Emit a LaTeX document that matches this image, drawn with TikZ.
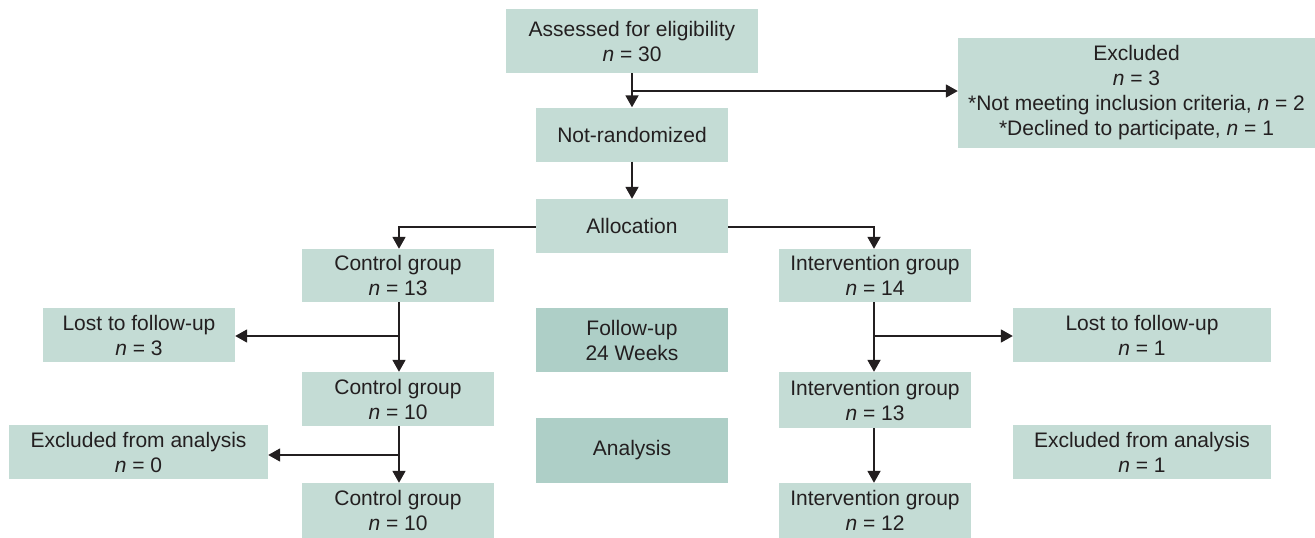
\documentclass[tikz,border=0pt]{standalone}
\usepackage{fontspec}
\setmainfont{Liberation Sans}
\usetikzlibrary{arrows.meta}
\definecolor{boxlight}{RGB}{196,220,213}
\definecolor{boxdark}{RGB}{174,207,199}
\definecolor{ink}{RGB}{35,31,32}
\begin{document}
\begin{tikzpicture}[x=1pt,y=-1pt,
  box/.style={fill=boxlight, draw=none, inner sep=0pt, align=center, text=ink,
    font=\fontsize{21}{25}\selectfont},
  darkbox/.style={box, fill=boxdark},
  arr/.style={draw=ink, line width=1.8pt, -{Triangle[length=12pt,width=13pt]}},
  ln/.style={draw=ink, line width=1.8pt}]
\useasboundingbox (0,0) rectangle (1315,538);
% top
\node[box, minimum width=252pt, minimum height=64pt] (assess) at (632,41) {Assessed for eligibility\\\textit{n} = 30};
\node[box, minimum width=192pt, minimum height=54pt] (notrand) at (632,134.5) {Not-randomized};
\node[box, minimum width=192pt, minimum height=54pt] (alloc) at (632,226) {Allocation};
\node[box, minimum width=357pt, minimum height=110pt] (excl) at (1136.5,93) {Excluded\\\textit{n} = 3\\*Not meeting inclusion criteria, \textit{n} = 2\\*Declined to participate, \textit{n} = 1};
% control column
\node[box, minimum width=192pt, minimum height=53pt] (c1) at (398,275.5) {Control group\\\textit{n} = 13};
\node[box, minimum width=192pt, minimum height=54pt] (c2) at (398,399) {Control group\\\textit{n} = 10};
\node[box, minimum width=192pt, minimum height=55pt] (c3) at (398,510.5) {Control group\\\textit{n} = 10};
\node[box, minimum width=192pt, minimum height=54pt] (lostc) at (139,335) {Lost to follow-up\\\textit{n} = 3};
\node[box, minimum width=259pt, minimum height=54pt] (exclc) at (138.5,452) {Excluded from analysis\\\textit{n} = 0};
% middle labels
\node[darkbox, minimum width=192pt, minimum height=64pt] (follow) at (632,340) {Follow-up\\24 Weeks};
\node[darkbox, minimum width=192pt, minimum height=65pt] (anal) at (632,450.5) {Analysis};
% intervention column
\node[box, minimum width=192pt, minimum height=53pt] (i1) at (875,275.5) {Intervention group\\\textit{n} = 14};
\node[box, minimum width=192pt, minimum height=56pt] (i2) at (875,400) {Intervention group\\\textit{n} = 13};
\node[box, minimum width=192pt, minimum height=55pt] (i3) at (875,510.5) {Intervention group\\\textit{n} = 12};
\node[box, minimum width=258pt, minimum height=54pt] (losti) at (1142,335) {Lost to follow-up\\\textit{n} = 1};
\node[box, minimum width=258pt, minimum height=54pt] (excli) at (1142,452) {Excluded from analysis\\\textit{n} = 1};
% connectors
\coordinate (b0) at (632,91);
\draw[arr] (assess) -- (notrand);
\draw[arr] (b0) -- (b0 -| excl.west);
\draw[arr] (notrand) -- (alloc);
\coordinate (aL) at (399,227);
\coordinate (aR) at (874,227);
\draw[arr] (alloc.west |- aL) -- (aL) -- (aL |- c1.north);
\draw[arr] (alloc.east |- aR) -- (aR) -- (aR |- i1.north);
% control branches
\coordinate (cx) at (399,0);
\draw[arr] (cx |- c1.south) -- (cx |- c2.north);
\coordinate (cb1) at (399,336);
\draw[arr] (cb1) -- (cb1 -| lostc.east);
\draw[arr] (cx |- c2.south) -- (cx |- c3.north);
\coordinate (cb2) at (399,455);
\draw[arr] (cb2) -- (cb2 -| exclc.east);
% intervention branches
\coordinate (ix) at (874,0);
\draw[arr] (ix |- i1.south) -- (ix |- i2.north);
\coordinate (ib1) at (874,336);
\draw[arr] (ib1) -- (ib1 -| losti.west);
\draw[arr] (ix |- i2.south) -- (ix |- i3.north);
\end{tikzpicture}
\end{document}
